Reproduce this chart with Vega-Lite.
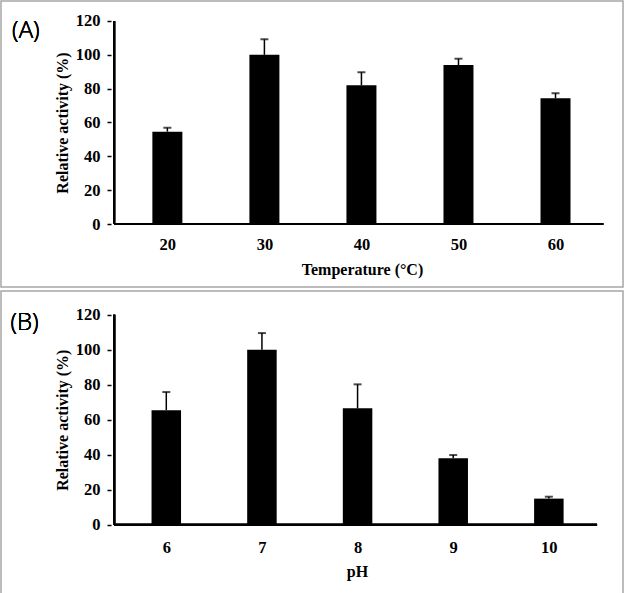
{
  "$schema": "https://vega.github.io/schema/vega-lite/v6.json",
  "padding": 0,
  "spacing": 2,
  "background": "white",
  "config": {
    "view": {"stroke": "#a6a6a6", "strokeWidth": 1.5},
    "axis": {
      "labelFont": "Liberation Serif", "labelFontWeight": "bold", "labelFontSize": 16.5, "labelColor": "#000",
      "titleFont": "Liberation Serif", "titleFontWeight": "bold", "titleFontSize": 16, "titleColor": "#000",
      "grid": false, "domain": false, "tickColor": "#000", "tickWidth": 1.5
    }
  },
  "vconcat": [
    {
      "width": 622,
      "height": 286,
      "data": {"values": [
        {"temperature": 20, "activity": 54.6, "upper": 56.9},
        {"temperature": 30, "activity": 100, "upper": 109.2},
        {"temperature": 40, "activity": 82, "upper": 89.7},
        {"temperature": 50, "activity": 94, "upper": 97.7},
        {"temperature": 60, "activity": 74.3, "upper": 77.3}
      ]},
      "layer": [
        {
          "mark": {"type": "bar", "color": "#000", "size": 30},
          "encoding": {
            "x": {"field": "temperature", "type": "quantitative",
              "scale": {"domain": [3.37, 66.44], "nice": false, "zero": false},
              "axis": {"values": [20, 30, 40, 50, 60], "format": "d", "ticks": false, "tickSize": 0, "offset": -63,
                "labelBaseline": "alphabetic", "labelPadding": 25,
                "title": "Temperature (°C)", "titleX": 361, "titleY": 50, "titleBaseline": "alphabetic", "titleAlign": "center"}},
            "y": {"field": "activity", "type": "quantitative",
              "scale": {"domain": [-37.24, 131.82], "nice": false, "zero": false},
              "axis": {"values": [0, 20, 40, 60, 80, 100, 120], "format": "d", "tickSize": 4, "labelPadding": 7, "offset": -110,
                "title": "Relative activity (%)", "titleX": -49, "titleY": 121.5, "titleAngle": 270, "titleBaseline": "middle", "titleAlign": "center"}},
            "y2": {"datum": 0}
          }
        },
        {
          "mark": {"type": "rule", "color": "#000", "strokeWidth": 1.5},
          "encoding": {
            "x": {"field": "temperature", "type": "quantitative"},
            "y": {"field": "activity", "type": "quantitative"},
            "y2": {"field": "upper"}
          }
        },
        {
          "mark": {"type": "tick", "color": "#000", "orient": "horizontal", "size": 8, "thickness": 2},
          "encoding": {
            "x": {"field": "temperature", "type": "quantitative"},
            "y": {"field": "upper", "type": "quantitative"}
          }
        },
        {
          "mark": {"type": "rule", "color": "#000", "strokeWidth": 2},
          "encoding": {"x": {"datum": 14.52}, "y": {"datum": 0}, "y2": {"datum": 120}}
        },
        {
          "mark": {"type": "rule", "color": "#000", "strokeWidth": 2},
          "encoding": {"x": {"datum": 14.52}, "x2": {"datum": 64.92}, "y": {"datum": 0}}
        },
        {
          "mark": {"type": "text", "text": "(A)", "font": "Open Sans", "fontWeight": 300, "fontSize": 24, "align": "left", "baseline": "middle", "color": "#000"},
          "encoding": {"x": {"datum": 4.0}, "y": {"datum": 114.09}}
        }
      ]
    },
    {
      "width": 622,
      "height": 303,
      "data": {"values": [
        {"pH": 6, "activity": 65.4, "upper": 75.8},
        {"pH": 7, "activity": 100, "upper": 109.5},
        {"pH": 8, "activity": 66.5, "upper": 80.2},
        {"pH": 9, "activity": 37.9, "upper": 39.8},
        {"pH": 10, "activity": 14.9, "upper": 16}
      ]},
      "layer": [
        {
          "mark": {"type": "bar", "color": "#000", "size": 29.5},
          "encoding": {
            "x": {"field": "pH", "type": "quantitative",
              "scale": {"domain": [4.324, 10.723], "nice": false, "zero": false},
              "axis": {"values": [6, 7, 8, 9, 10], "format": "d", "ticks": false, "tickSize": 0, "offset": -69.3,
                "labelBaseline": "alphabetic", "labelPadding": 28,
                "title": "pH", "titleX": 356, "titleY": 51.3, "titleBaseline": "alphabetic", "titleAlign": "center"}},
            "y": {"field": "activity", "type": "quantitative",
              "scale": {"domain": [-39.6, 133.54], "nice": false, "zero": false},
              "axis": {"values": [0, 20, 40, 60, 80, 100, 120], "format": "d", "tickSize": 4, "labelPadding": 7, "offset": -110,
                "title": "Relative activity (%)", "titleX": -49, "titleY": 128.7, "titleAngle": 270, "titleBaseline": "middle", "titleAlign": "center"}},
            "y2": {"datum": 0}
          }
        },
        {
          "mark": {"type": "rule", "color": "#000", "strokeWidth": 1.5},
          "encoding": {
            "x": {"field": "pH", "type": "quantitative"},
            "y": {"field": "activity", "type": "quantitative"},
            "y2": {"field": "upper"}
          }
        },
        {
          "mark": {"type": "tick", "color": "#000", "orient": "horizontal", "size": 8, "thickness": 2},
          "encoding": {
            "x": {"field": "pH", "type": "quantitative"},
            "y": {"field": "upper", "type": "quantitative"}
          }
        },
        {
          "mark": {"type": "rule", "color": "#000", "strokeWidth": 2},
          "encoding": {"x": {"datum": 5.456}, "y": {"datum": 0}, "y2": {"datum": 120}}
        },
        {
          "mark": {"type": "rule", "color": "#000", "strokeWidth": 2},
          "encoding": {"x": {"datum": 5.456}, "x2": {"datum": 10.504}, "y": {"datum": 0}}
        },
        {
          "mark": {"type": "text", "text": "(B)", "font": "Open Sans", "fontWeight": 300, "fontSize": 24, "align": "left", "baseline": "middle", "color": "#000"},
          "encoding": {"x": {"datum": 4.37}, "y": {"datum": 115.25}}
        }
      ]
    }
  ]
}
